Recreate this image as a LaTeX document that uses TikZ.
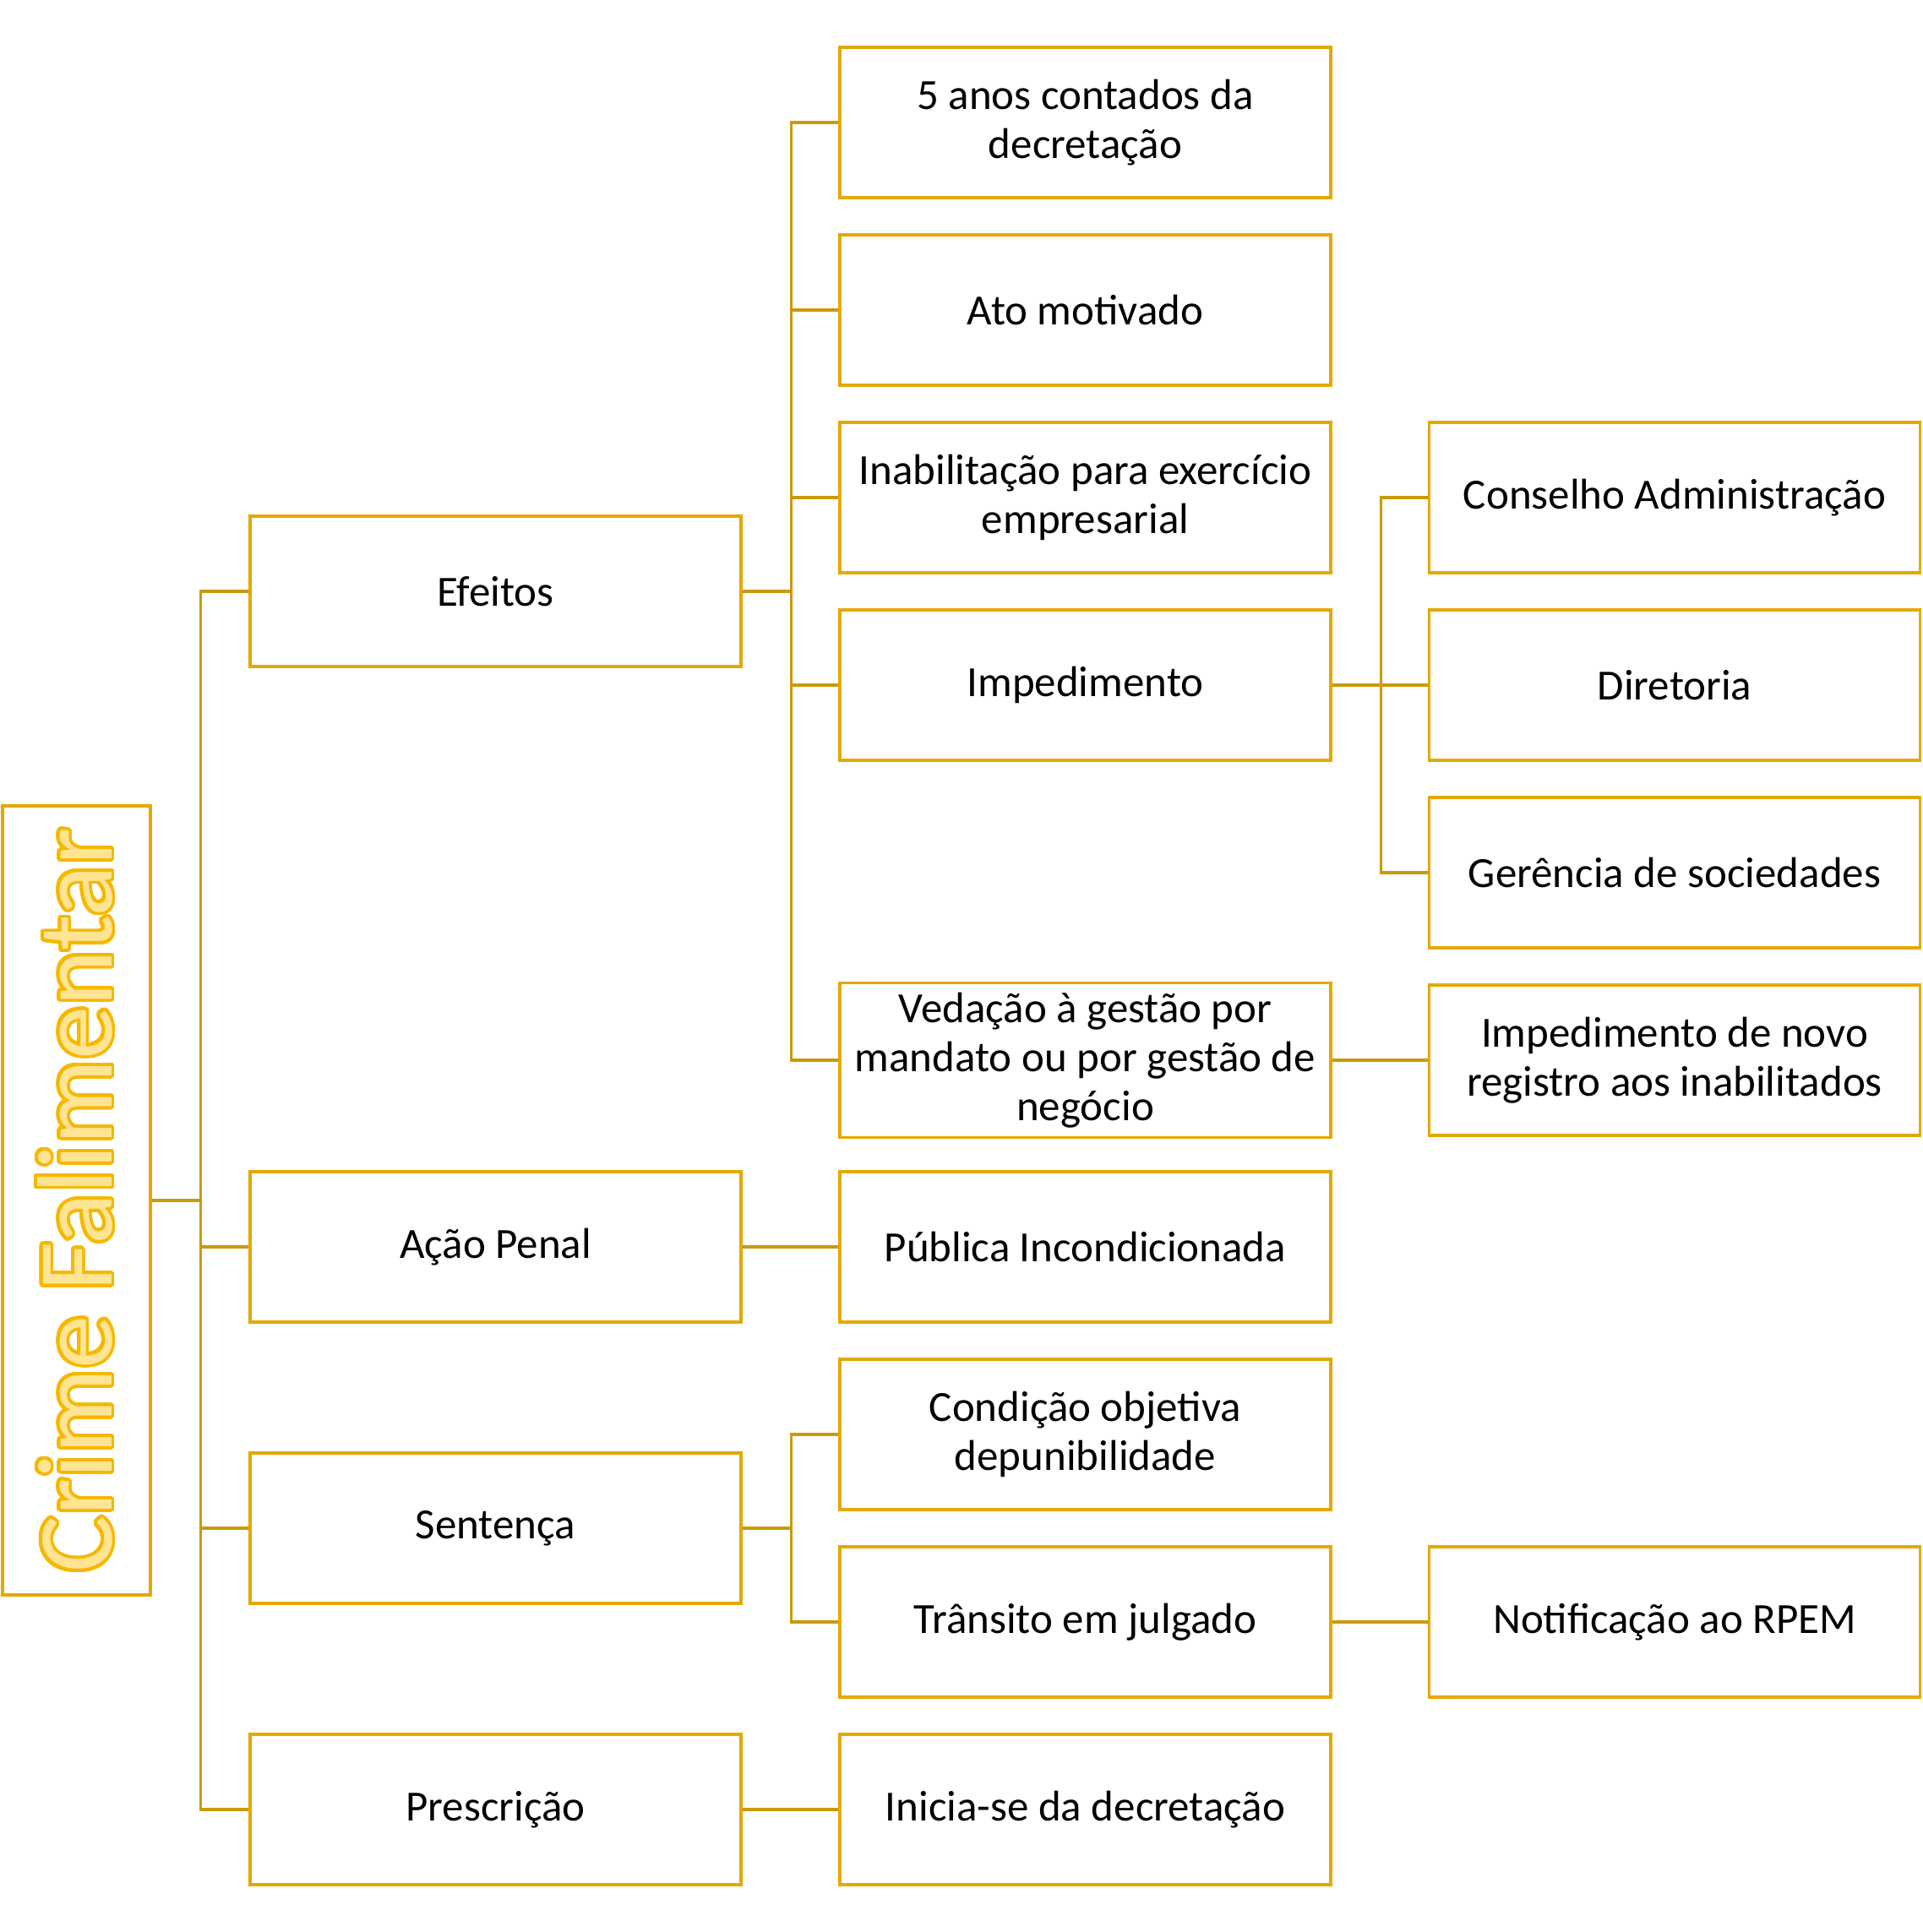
\documentclass[tikz,border=0pt]{standalone}
\usepackage{fontspec}
\setmainfont{Carlito}
\usepackage{contour}
\contourlength{1.1pt}
\contournumber{32}
\definecolor{boxgold}{HTML}{E5A800}
\definecolor{linegold}{HTML}{C99A0A}
\definecolor{titlefill}{HTML}{FFE494}
\definecolor{titleline}{HTML}{F5B800}
\usetikzlibrary{positioning}

\begin{document}
\begin{tikzpicture}
    [every node/.style={draw=boxgold, line width=0.9pt, rectangle, minimum width=5.81cm, minimum height=1.78cm, align=center, font=\fontsize{14.5}{16.5}\selectfont},
     conn/.style={draw=linegold, line width=0.9pt}]
  \useasboundingbox (0,0) rectangle (22.76,-22.87);

  % title
  \node[minimum width=1.75cm, minimum height=9.34cm, font=\fontsize{36}{40}\selectfont] (n0) at (0.905,-14.21)
    {\rotatebox{90}{\contour{titleline}{\textcolor{titlefill}{Crime Falimentar}}}};

  % first level
  \node (n1) at (5.865,-7.00) {Efeitos};
  \node (n2) at (5.865,-14.76) {Ação Penal};
  \node (n3) at (5.865,-18.09) {Sentença};
  \node (n4) at (5.865,-21.42) {Prescrição};

  % second level
  \node (n5) at (12.845,-1.45) {5 anos contados da\\decretação};
  \node (n6) at (12.845,-3.67) {Ato motivado};
  \node (n7) at (12.845,-5.89) {Inabilitação para exercício\\empresarial};
  \node (n8) at (12.845,-8.11) {Impedimento};
  \node (n9) at (12.845,-12.55) {Vedação à gestão por\\mandato ou por gestão de\\negócio};
  \node (n10) at (12.845,-14.76) {Pública Incondicionada};
  \node (n11) at (12.845,-16.98) {Condição objetiva\\depunibilidade};
  \node (n12) at (12.845,-19.20) {Trânsito em julgado};
  \node (n13) at (12.845,-21.42) {Inicia-se da decretação};

  % third level
  \node (n14) at (19.82,-5.89) {Conselho Administração};
  \node (n15) at (19.82,-8.11) {Diretoria};
  \node (n16) at (19.82,-10.33) {Gerência de sociedades};
  \node (n17) at (19.82,-12.55) {Impedimento de novo\\registro aos inabilitados};
  \node (n18) at (19.82,-19.20) {Notificação ao RPEM};

  \foreach \from/\to in {n0/n1, n0/n2, n0/n3, n0/n4, n1/n5, n1/n6, n1/n7, n1/n8, n1/n9, n3/n11, n3/n12, n8/n14, n8/n15, n8/n16}
    \draw[conn] (\from.east) -- ++(0.58,0) |- (\to.west);

  \foreach \from/\to in {n2/n10, n4/n13, n9/n17, n12/n18}
    \draw[conn] (\from.east) -- (\to.west);
\end{tikzpicture}
\end{document}
